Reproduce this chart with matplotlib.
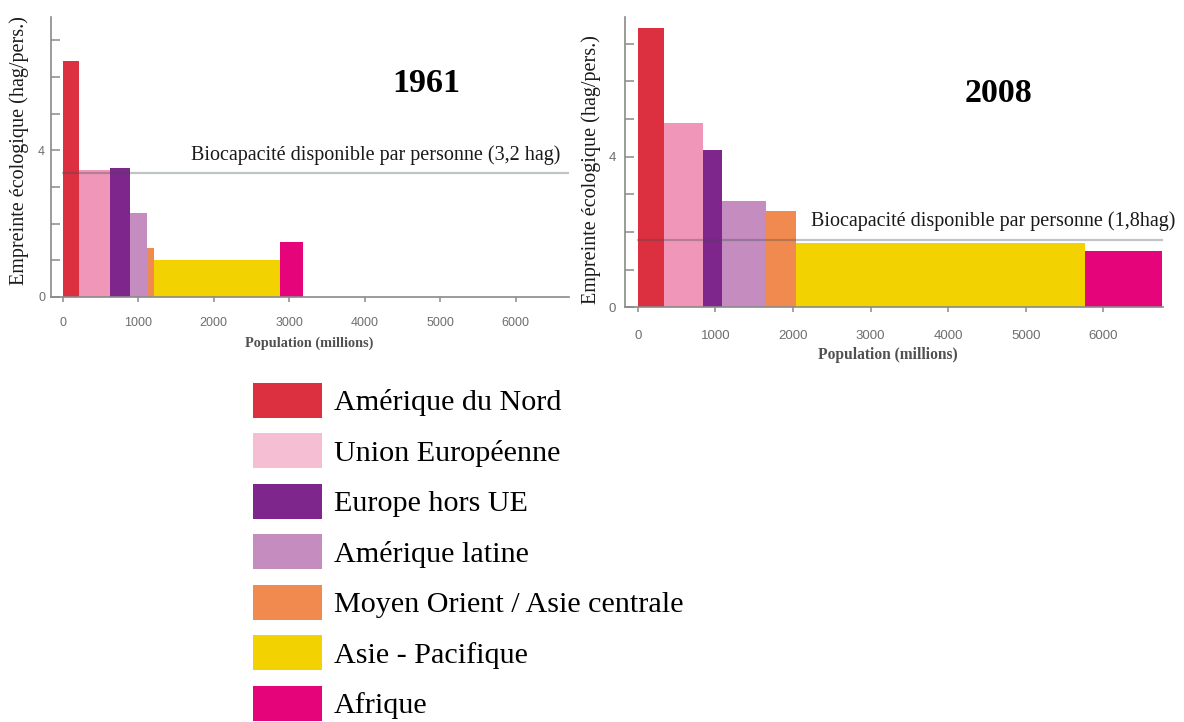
import numpy as np
import matplotlib
matplotlib.use("Agg")
import matplotlib.pyplot as plt
from matplotlib.patches import Patch

# regions, in legend order
regions = ["Amérique du Nord", "Union Européenne", "Europe hors UE",
           "Amérique latine", "Moyen Orient / Asie centrale",
           "Asie - Pacifique", "Afrique"]
colors = ["#dc3040", "#f096b9", "#7e268c", "#c58cc0", "#f08a4e", "#f2d200", "#e6047a"]
legend_colors = ["#dc3040", "#f5bed2", "#7e268c", "#c58cc0", "#f08a4e", "#f2d200", "#e6047a"]

# population (millions) = bar width, footprint (hag/pers.) = bar height
pop_1961 = [218, 410, 265, 228, 93, 1665, 300]
fp_1961 = [6.44, 3.47, 3.53, 2.29, 1.32, 1.00, 1.49]
biocap_1961 = 3.37

pop_2008 = [341, 498, 244, 567, 390, 3724, 990]
fp_2008 = [7.41, 4.90, 4.17, 2.81, 2.57, 1.70, 1.50]
biocap_2008 = 1.79

x_ticks = [0, 1000, 2000, 3000, 4000, 5000, 6000]
y_ticks = [0, 1, 2, 3, 4, 5, 6, 7]
y_ticklabels = ["0", "", "", "", "4", "", "", ""]

SERIF = "Liberation Serif"
SANS = "Liberation Sans"
AXCOL = "#8a8a8a"

fig = plt.figure(figsize=(11.84, 7.22), dpi=100)
ax1 = fig.add_axes([0.0428, 0.589, 0.4378, 0.3874])
ax2 = fig.add_axes([0.5279, 0.5744, 0.4541, 0.4021])


def draw(ax, pop, fp, biocap, year, bio_label, bio_x, xlim, ylim, year_pos,
         tick_fs, xlab_fs, xlab_x, ytick_pad, xtick_pad, ylab_x, ylab_y, xlab_y):
    lefts = np.concatenate([[0], np.cumsum(pop)[:-1]])
    ax.bar(lefts, fp, width=pop, align="edge", color=colors, linewidth=0)
    # biocapacity line, drawn over the bars
    ax.plot([0, xlim[1]], [biocap, biocap], color="#3a4a50", alpha=0.32, lw=1.6)
    ax.text(bio_x, biocap + 0.36, bio_label, ha="right", va="baseline",
            family=SERIF, fontsize=14.5, color="#1a1a1a")
    ax.text(year_pos[0], year_pos[1], year, transform=ax.transAxes, ha="center",
            va="center", family=SERIF, fontsize=24.5, fontweight="bold", color="black")

    ax.set_xlim(*xlim)
    ax.set_ylim(*ylim)
    ax.set_xticks(x_ticks)
    ax.set_xticklabels([str(t) for t in x_ticks])
    ax.set_yticks(y_ticks)
    ax.set_yticklabels(y_ticklabels)
    for s in ["top", "right"]:
        ax.spines[s].set_visible(False)
    for s in ["left", "bottom"]:
        ax.spines[s].set_color(AXCOL)
        ax.spines[s].set_linewidth(1.2)
    ax.tick_params(axis="y", direction="in", length=6.5, width=1.1, color=AXCOL,
                   pad=ytick_pad, labelsize=tick_fs, labelcolor="#6e6e6e")
    ax.tick_params(axis="x", direction="out", length=3.6, width=1.1, color=AXCOL,
                   pad=xtick_pad, labelsize=tick_fs, labelcolor="#6e6e6e")
    for lab in ax.get_xticklabels() + ax.get_yticklabels():
        lab.set_family(SANS)

    ax.set_ylabel("Empreinte écologique (hag/pers.)", family=SERIF, fontsize=14.5,
                  color="#1a1a1a", va="center")
    ax.yaxis.set_label_coords(ylab_x, ylab_y)
    ax.set_xlabel("Population (millions)", family=SERIF, fontsize=xlab_fs,
                  fontweight="bold", color="#505050", va="center")
    ax.xaxis.set_label_coords(xlab_x, xlab_y)


draw(ax1, pop_1961, fp_1961, biocap_1961, "1961",
     "Biocapacité disponible par personne (3,2 hag)", 6587,
     (-159, 6706), (0, 7.64), (0.724, 0.764),
     9, 10.3, 0.499, 4, 11, -0.060, 0.524, -0.1655)
draw(ax2, pop_2008, fp_2008, biocap_2008, "2008",
     "Biocapacité disponible par personne (1,8hag)", 6924,
     (-164, 6765), (0, 7.71), (0.694, 0.738),
     9.5, 11.2, 0.489, 6.5, 13, -0.063, 0.476, -0.164)

handles = [Patch(facecolor=c, edgecolor="none") for c in legend_colors]
fig.legend(handles, regions, loc="upper left", bbox_to_anchor=(0.2137, 0.470),
           frameon=False, borderpad=0, borderaxespad=0,
           prop={"family": SERIF, "size": 21.7},
           handlelength=2.28, handleheight=1.41, handletextpad=0.41,
           labelspacing=0.515)

fig.savefig("out.png", dpi=100, facecolor="white")
